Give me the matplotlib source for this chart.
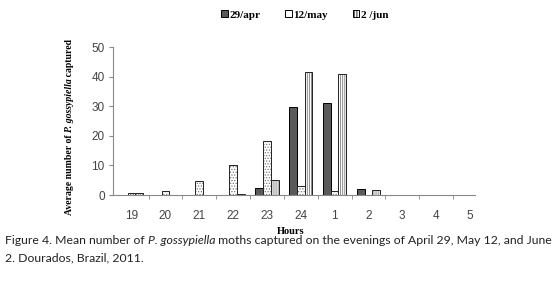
import numpy as np
import matplotlib
matplotlib.use('Agg')
import matplotlib.pyplot as plt
from matplotlib.patches import Patch

# data
hours = ['19', '20', '21', '22', '23', '24', '1', '2', '3', '4', '5']
apr29 = [0, 0, 0, 0.1, 2.3, 29.6, 31.0, 2.0, 0, 0, 0]
may12 = [0.8, 1.4, 4.7, 10.2, 18.2, 2.9, 1.5, 0, 0, 0, 0]
jun2 = [0.6, 0, 0, 0.5, 5.1, 41.6, 40.8, 1.7, 0, 0, 0]
series_names = ['29/apr', '12/may', '2 /jun']

plt.rcParams['hatch.linewidth'] = 0.6
plt.rcParams['hatch.color'] = '#777777'

W, H = 556, 286
fig = plt.figure(figsize=(W / 100, H / 100), dpi=100)
ax = fig.add_axes([113 / W, 1 - 195 / H, (475 - 113) / W, (195 - 47) / H])

x = np.arange(len(hours))
w = 0.228
bars1 = ax.bar(x - w, apr29, w, color='#5a5a5a', edgecolor='black', linewidth=0.7)
bars2 = ax.bar(x, may12, w, color='white', edgecolor='#222222', linewidth=0.7, hatch='.' * 6)
bars3 = ax.bar(x + w, jun2, w, color='white', edgecolor='#222222', linewidth=0.7, hatch='|' * 8)
for p in list(bars2) + list(bars3):
    if hasattr(p, 'set_hatchcolor'):
        p.set_hatchcolor('#777777')
    else:
        p._hatch_color = (0.47, 0.47, 0.47, 1)
for bs in (bars1, bars2, bars3):
    for p in bs:
        if p.get_height() == 0:
            p.set_visible(False)

ax.set_xlim(-0.55, 10.15)
ax.set_ylim(0, 50)
ax.set_yticks([0, 10, 20, 30, 40, 50])
ax.set_xticks(x)
ax.set_xticklabels(hours)
ax.set_xticks(np.arange(0.5, 10, 1), minor=True)
ax.tick_params(axis='x', which='major', length=0, pad=11, labelsize=8.5, labelcolor='#444444')
ax.tick_params(axis='x', which='minor', length=3, direction='out', color='#888888')
ax.tick_params(axis='y', length=3, direction='out', color='#888888', labelsize=8.5,
               labelcolor='#444444', pad=3)
for t in ax.get_xticklabels() + ax.get_yticklabels():
    t.set_family('Liberation Sans')
for s in ['top', 'right']:
    ax.spines[s].set_visible(False)
for s in ['left', 'bottom']:
    ax.spines[s].set_color('#888888')
    ax.spines[s].set_linewidth(0.8)

# legend
handles = [Patch(facecolor='#5a5a5a', edgecolor='black', linewidth=0.7),
           Patch(facecolor='white', edgecolor='black', linewidth=0.7),
           Patch(facecolor='white', edgecolor='black', linewidth=0.7, hatch='|' * 6)]
fig.legend(handles, series_names, loc='center', bbox_to_anchor=(305 / W, 1 - 15 / H), ncol=3,
           frameon=False, handlelength=0.6, handleheight=0.6, handletextpad=0.15,
           columnspacing=2.2, prop={'family': 'Liberation Serif', 'weight': 'bold', 'size': 8})

# x label
fig.text(291 / W, 1 - 231 / H, 'Hours', ha='center', va='center',
         family='Liberation Serif', weight='bold', size=7.5)

fig.canvas.draw()
r = fig.canvas.get_renderer()

# y label in pieces (italic species name)
parts = [('Average number of ', 'normal'), ('P. gossypiella', 'italic'), (' captured', 'normal')]
texts = []
for s, st in parts:
    t = fig.text(70 / W, 0, s, rotation=90, family='Liberation Serif', weight='bold', style=st,
                 size=7, ha='center', va='bottom')
    texts.append(t)
lens = [t.get_window_extent(r).height for t in texts]
ypos = H - 127 - sum(lens) / 2
for t, l in zip(texts, lens):
    t.set_position((70 / W, ypos / H))
    ypos += l

# caption in pieces
cap_parts = [('Figure 4. Mean number of ', 'normal'), ('P. gossypiella', 'italic'),
             (' moths captured on the evenings of April 29, May 12, and June', 'normal')]
xpos = 5
for s, st in cap_parts:
    t = fig.text(xpos / W, 1 - 241 / H, s, family='Lato', style=st, size=8.85,
                 color='#222222', ha='left', va='center')
    xpos += t.get_window_extent(r).width
fig.text(5 / W, 1 - 258 / H, '2. Dourados, Brazil, 2011.', family='Lato', size=8.85,
         color='#222222', ha='left', va='center')

fig.savefig('out.png', dpi=100)
